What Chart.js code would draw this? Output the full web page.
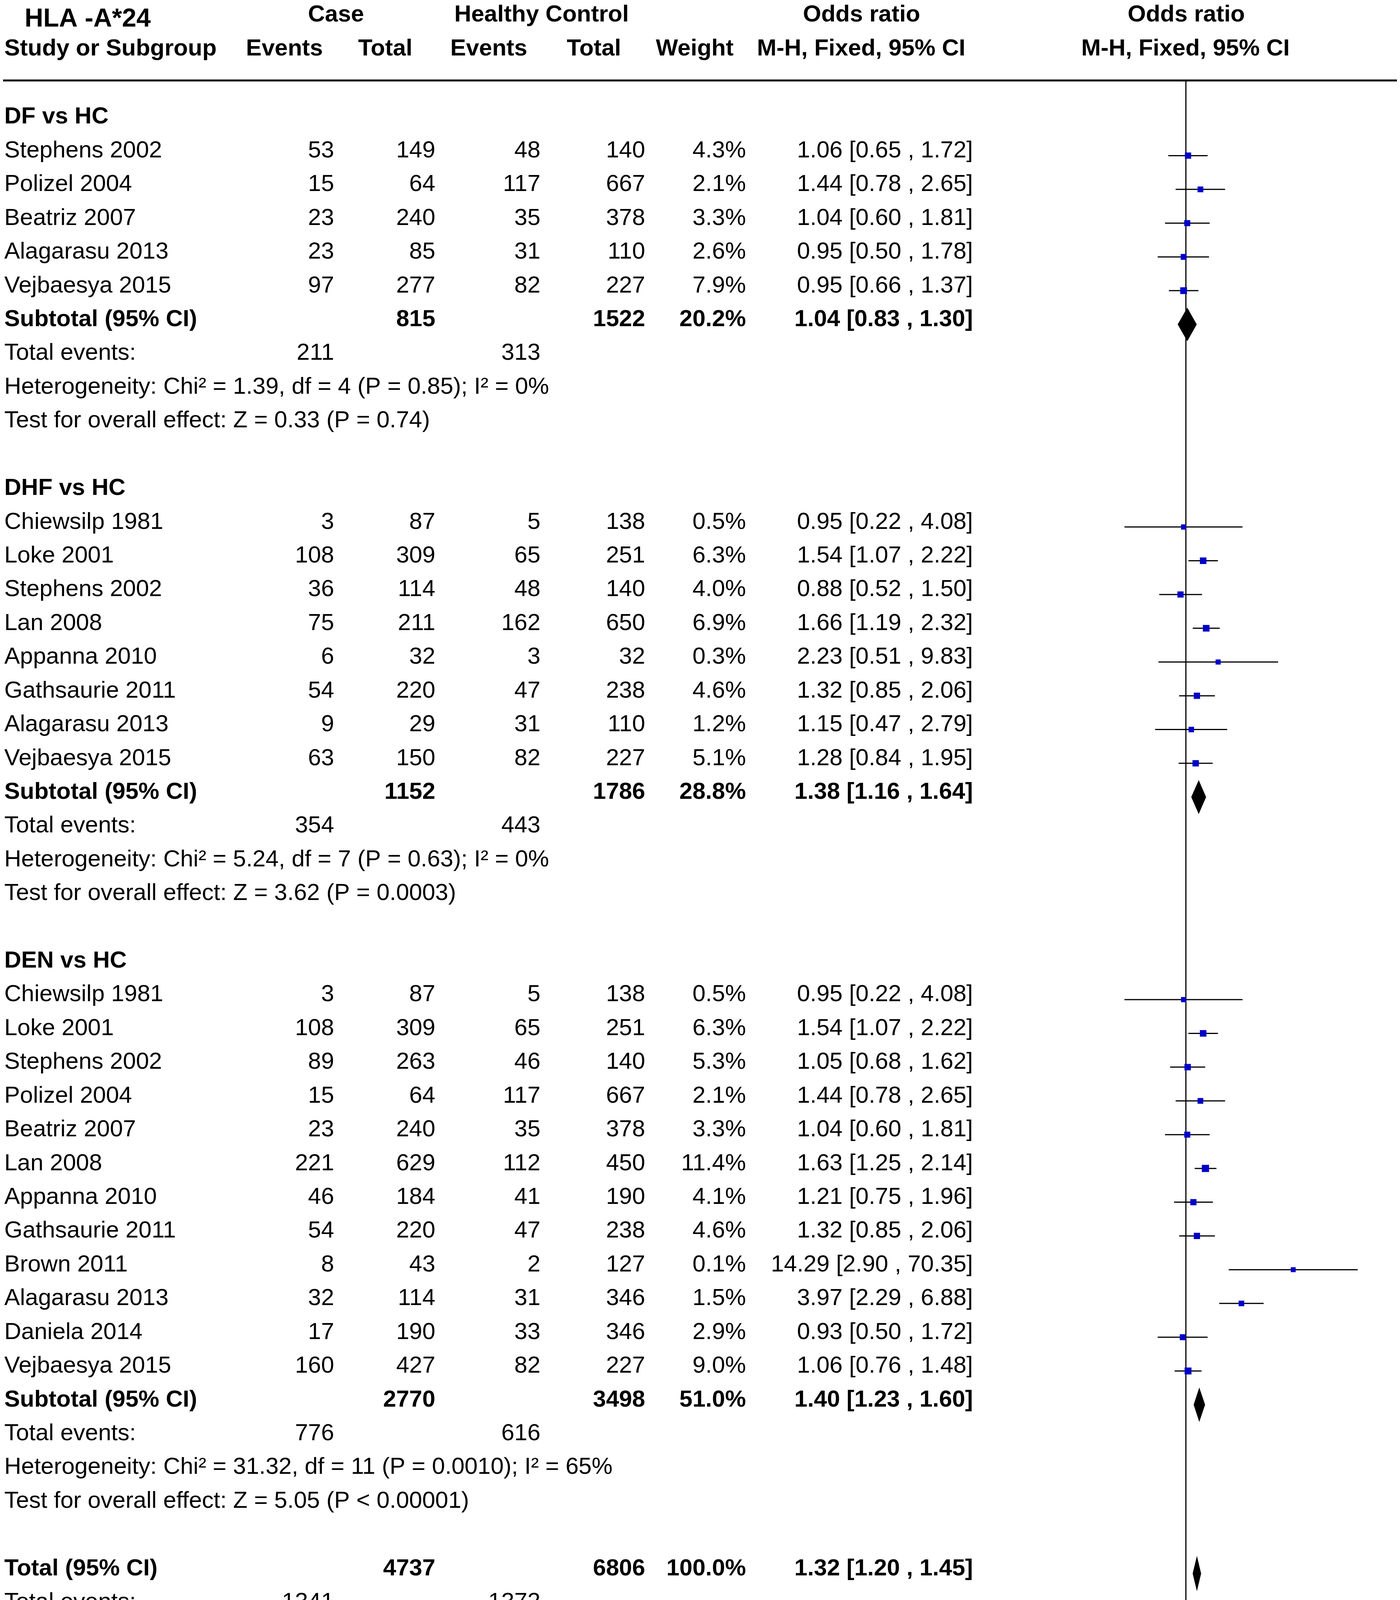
<!DOCTYPE html>
<html>
<head>
<meta charset="utf-8">
<script src="https://cdn.jsdelivr.net/npm/chart.js@4.4.1/dist/chart.umd.min.js"></script>
<style>
  html, body { margin: 0; padding: 0; background: #fff; }
  canvas { display: block; }
</style>
</head>
<body>
<canvas id="forest" width="3583" height="4402" style="width:3583px;height:4402px"></canvas>
<script>
// Forest plot HLA -A*24: dados por estudo e por subgrupo.
const groupTitles = ['DF vs HC', 'DHF vs HC', 'DEN vs HC'];
const groupSizes = [5, 8, 12];

const studyNames = [
  'Stephens 2002', 'Polizel 2004', 'Beatriz 2007', 'Alagarasu 2013', 'Vejbaesya 2015',
  'Chiewsilp 1981', 'Loke 2001', 'Stephens 2002', 'Lan 2008', 'Appanna 2010', 'Gathsaurie 2011', 'Alagarasu 2013', 'Vejbaesya 2015',
  'Chiewsilp 1981', 'Loke 2001', 'Stephens 2002', 'Polizel 2004', 'Beatriz 2007', 'Lan 2008', 'Appanna 2010', 'Gathsaurie 2011',
  'Brown 2011', 'Alagarasu 2013', 'Daniela 2014', 'Vejbaesya 2015'
];
const caseEvents = [53, 15, 23, 23, 97, 3, 108, 36, 75, 6, 54, 9, 63, 3, 108, 89, 15, 23, 221, 46, 54, 8, 32, 17, 160];
const caseTotals = [149, 64, 240, 85, 277, 87, 309, 114, 211, 32, 220, 29, 150, 87, 309, 263, 64, 240, 629, 184, 220, 43, 114, 190, 427];
const ctrlEvents = [48, 117, 35, 31, 82, 5, 65, 48, 162, 3, 47, 31, 82, 5, 65, 46, 117, 35, 112, 41, 47, 2, 31, 33, 82];
const ctrlTotals = [140, 667, 378, 110, 227, 138, 251, 140, 650, 32, 238, 110, 227, 138, 251, 140, 667, 378, 450, 190, 238, 127, 346, 346, 227];
const weights = [4.3, 2.1, 3.3, 2.6, 7.9, 0.5, 6.3, 4.0, 6.9, 0.3, 4.6, 1.2, 5.1, 0.5, 6.3, 5.3, 2.1, 3.3, 11.4, 4.1, 4.6, 0.1, 1.5, 2.9, 9.0];
const oddsRatio = [1.06, 1.44, 1.04, 0.95, 0.95, 0.95, 1.54, 0.88, 1.66, 2.23, 1.32, 1.15, 1.28, 0.95, 1.54, 1.05, 1.44, 1.04, 1.63, 1.21, 1.32, 14.29, 3.97, 0.93, 1.06];
const ciLow = [0.65, 0.78, 0.60, 0.50, 0.66, 0.22, 1.07, 0.52, 1.19, 0.51, 0.85, 0.47, 0.84, 0.22, 1.07, 0.68, 0.78, 0.60, 1.25, 0.75, 0.85, 2.90, 2.29, 0.50, 0.76];
const ciHigh = [1.72, 2.65, 1.81, 1.78, 1.37, 4.08, 2.22, 1.50, 2.32, 9.83, 2.06, 2.79, 1.95, 4.08, 2.22, 1.62, 2.65, 1.81, 2.14, 1.96, 2.06, 70.35, 6.88, 1.72, 1.48];

// três subtotais e o total geral
const pooledCaseTotals = [815, 1152, 2770, 4737];
const pooledCtrlTotals = [1522, 1786, 3498, 6806];
const pooledWeights = [20.2, 28.8, 51.0, 100.0];
const pooledOR = [1.04, 1.38, 1.40, 1.32];
const pooledLow = [0.83, 1.16, 1.23, 1.20];
const pooledHigh = [1.30, 1.64, 1.60, 1.45];
const totalCaseEvents = [211, 354, 776, 1341];
const totalCtrlEvents = [313, 443, 616, 1372];
const heterogeneity = [
  'Heterogeneity: Chi² = 1.39, df = 4 (P = 0.85); I² = 0%',
  'Heterogeneity: Chi² = 5.24, df = 7 (P = 0.63); I² = 0%',
  'Heterogeneity: Chi² = 31.32, df = 11 (P = 0.0010); I² = 65%',
  'Heterogeneity: Chi² = 43.32, df = 24 (P = 0.009); I² = 45%'
];
const overallEffect = [
  'Test for overall effect: Z = 0.33 (P = 0.74)',
  'Test for overall effect: Z = 3.62 (P = 0.0003)',
  'Test for overall effect: Z = 5.05 (P < 0.00001)',
  'Test for overall effect: Z = 5.77 (P < 0.00001)'
];
const subgroupTest = 'Test for subgroup differences: Chi² = 5.43, df = 2 (P = 0.07), I² = 63.1%';
const axisTicks = [0.02, 0.1, 1, 10, 50];

// monta a sequência de linhas da tabela
const rows = [];
let s = 0;
groupTitles.forEach((title, g) => {
  rows.push({ kind: 'title', label: title });
  for (let k = 0; k < groupSizes[g]; k++, s++) rows.push({ kind: 'study', i: s });
  rows.push({ kind: 'pooled', p: g, label: 'Subtotal (95% CI)' });
  rows.push({ kind: 'events', p: g });
  rows.push({ kind: 'note', text: heterogeneity[g] });
  rows.push({ kind: 'note', text: overallEffect[g] });
  rows.push({ kind: 'blank' });
});
rows.push({ kind: 'pooled', p: 3, label: 'Total (95% CI)' });
rows.push({ kind: 'events', p: 3 });
rows.push({ kind: 'note', text: heterogeneity[3] });
rows.push({ kind: 'note', text: overallEffect[3] });
rows.push({ kind: 'note', text: subgroupTest });

const studyRow = [];
const pooledRow = [];
rows.forEach((r, idx) => {
  if (r.kind === 'study') studyRow[r.i] = idx;
  if (r.kind === 'pooled') pooledRow[r.p] = idx;
});

const FONT = '"Liberation Sans", Arial, sans-serif';
const FS = 60;
const TEXT_SHIFT = 17;
const COL = { label: 11, caseEv: 855, caseTot: 1114, ctrlEv: 1383, ctrlTot: 1651, weight: 1909, or: 2490 };

function fmtOR(m, lo, hi) {
  return `${m.toFixed(2)} [${lo.toFixed(2)} , ${hi.toFixed(2)}]`;
}

function text(ctx, str, x, yc, align, bold, size) {
  const sz = size || FS;
  ctx.font = `${bold ? 'bold ' : ''}${sz}px ${FONT}`;
  ctx.textAlign = align;
  ctx.textBaseline = 'alphabetic';
  ctx.fillStyle = '#000';
  ctx.fillText(str, x, yc + 0.358 * sz);
}

const ciSegments = [];
studyNames.forEach((_, i) => {
  ciSegments.push({ x: ciLow[i], y: studyRow[i] }, { x: ciHigh[i], y: studyRow[i] }, { x: null, y: null });
});

const forestPlugin = {
  id: 'forest',
  beforeDatasetsDraw(chart) {
    const { ctx, chartArea, scales: { x } } = chart;
    const px = Math.round(x.getPixelForValue(1));
    ctx.save();
    ctx.strokeStyle = '#000';
    ctx.lineWidth = 3;
    ctx.beginPath();
    ctx.moveTo(px, chartArea.top);
    ctx.lineTo(px, chartArea.bottom);
    ctx.stroke();
    ctx.restore();
  },
  afterDatasetsDraw(chart) {
    const { ctx, scales: { x, y } } = chart;
    ctx.save();
    ctx.fillStyle = '#000';
    ctx.strokeStyle = '#000';
    ctx.lineWidth = 2;
    ctx.lineJoin = 'miter';
    pooledOR.forEach((m, p) => {
      const yc = y.getPixelForValue(pooledRow[p]);
      ctx.beginPath();
      ctx.moveTo(x.getPixelForValue(pooledLow[p]), yc);
      ctx.lineTo(x.getPixelForValue(m), yc - 41);
      ctx.lineTo(x.getPixelForValue(pooledHigh[p]), yc);
      ctx.lineTo(x.getPixelForValue(m), yc + 41);
      ctx.closePath();
      ctx.fill();
      ctx.stroke();
    });
    ctx.restore();
  },
  afterDraw(chart) {
    const { ctx, chartArea, scales: { x, y } } = chart;
    ctx.save();
    // marcas do eixo acima da linha
    ctx.strokeStyle = '#000';
    ctx.lineWidth = 3;
    axisTicks.forEach((v) => {
      const px = Math.round(x.getPixelForValue(v));
      ctx.beginPath();
      ctx.moveTo(px, chartArea.bottom - 17);
      ctx.lineTo(px, chartArea.bottom);
      ctx.stroke();
    });
    // linha do cabeçalho
    ctx.lineWidth = 5;
    ctx.beginPath();
    ctx.moveTo(8, 206);
    ctx.lineTo(3575, 206);
    ctx.stroke();

    // cabeçalho
    text(ctx, 'HLA -A*24', 63, 44, 'left', true, 66);
    text(ctx, 'Case', 860, 34, 'center', true);
    text(ctx, 'Healthy Control', 1386, 34, 'center', true);
    text(ctx, 'Odds ratio', 2205, 34, 'center', true);
    text(ctx, 'Odds ratio', 3036, 34, 'center', true);
    text(ctx, 'Study or Subgroup', 11, 121, 'left', true);
    text(ctx, 'Events', 728, 121, 'center', true);
    text(ctx, 'Total', 986, 121, 'center', true);
    text(ctx, 'Events', 1251, 121, 'center', true);
    text(ctx, 'Total', 1520, 121, 'center', true);
    text(ctx, 'Weight', 1778, 121, 'center', true);
    text(ctx, 'M-H, Fixed, 95% CI', 2204, 121, 'center', true);
    text(ctx, 'M-H, Fixed, 95% CI', 3034, 121, 'center', true);

    rows.forEach((r, idx) => {
      const yc = y.getPixelForValue(idx) - TEXT_SHIFT;
      if (r.kind === 'title') {
        text(ctx, r.label, COL.label, yc, 'left', true);
      } else if (r.kind === 'study') {
        const i = r.i;
        text(ctx, studyNames[i], COL.label, yc, 'left', false);
        text(ctx, String(caseEvents[i]), COL.caseEv, yc, 'right', false);
        text(ctx, String(caseTotals[i]), COL.caseTot, yc, 'right', false);
        text(ctx, String(ctrlEvents[i]), COL.ctrlEv, yc, 'right', false);
        text(ctx, String(ctrlTotals[i]), COL.ctrlTot, yc, 'right', false);
        text(ctx, weights[i].toFixed(1) + '%', COL.weight, yc, 'right', false);
        text(ctx, fmtOR(oddsRatio[i], ciLow[i], ciHigh[i]), COL.or, yc, 'right', false);
      } else if (r.kind === 'pooled') {
        const p = r.p;
        text(ctx, r.label, COL.label, yc, 'left', true);
        text(ctx, String(pooledCaseTotals[p]), COL.caseTot, yc, 'right', true);
        text(ctx, String(pooledCtrlTotals[p]), COL.ctrlTot, yc, 'right', true);
        text(ctx, pooledWeights[p].toFixed(1) + '%', COL.weight, yc, 'right', true);
        text(ctx, fmtOR(pooledOR[p], pooledLow[p], pooledHigh[p]), COL.or, yc, 'right', true);
      } else if (r.kind === 'events') {
        text(ctx, 'Total events:', COL.label, yc, 'left', false);
        text(ctx, String(totalCaseEvents[r.p]), COL.caseEv, yc, 'right', false);
        text(ctx, String(totalCtrlEvents[r.p]), COL.ctrlEv, yc, 'right', false);
      } else if (r.kind === 'note') {
        text(ctx, r.text, COL.label, yc, 'left', false);
      }
    });
    ctx.restore();
  }
};

new Chart(document.getElementById('forest'), {
  type: 'scatter',
  data: {
    datasets: [
      {
        label: 'Odds ratio',
        data: studyNames.map((_, i) => ({ x: oddsRatio[i], y: studyRow[i] })),
        pointStyle: 'rect',
        pointRadius: (c) => (12 + 1.9 * Math.sqrt(weights[c.dataIndex] || 0)) / 1.4142,
        backgroundColor: '#0000c8',
        borderWidth: 0,
        order: 0
      },
      {
        label: '95% CI',
        data: ciSegments,
        showLine: true,
        spanGaps: false,
        borderColor: '#000',
        borderWidth: 3,
        pointRadius: 0,
        order: 1
      }
    ]
  },
  options: {
    responsive: false,
    animation: false,
    devicePixelRatio: 1,
    events: [],
    layout: { padding: { left: 2581, right: 95, top: 206, bottom: 115 } },
    plugins: { legend: { display: false }, tooltip: { enabled: false } },
    scales: {
      x: {
        type: 'logarithmic',
        min: 0.0125,
        max: 80,
        afterBuildTicks: (scale) => { scale.ticks = axisTicks.map((v) => ({ value: v })); },
        afterFit: (scale) => { scale.height = 130; },
        ticks: {
          autoSkip: false,
          maxRotation: 0,
          padding: 0,
          color: '#000',
          font: { family: FONT, size: 60 },
          callback: (v) => String(v)
        },
        grid: { drawOnChartArea: false, drawTicks: true, tickLength: 18, lineWidth: 3, color: '#000' },
        border: { display: true, width: 4, color: '#000' }
      },
      y: {
        type: 'linear',
        display: false,
        reverse: true,
        min: -1.226,
        max: 44.49
      }
    }
  },
  plugins: [forestPlugin]
});
</script>
</body>
</html>
